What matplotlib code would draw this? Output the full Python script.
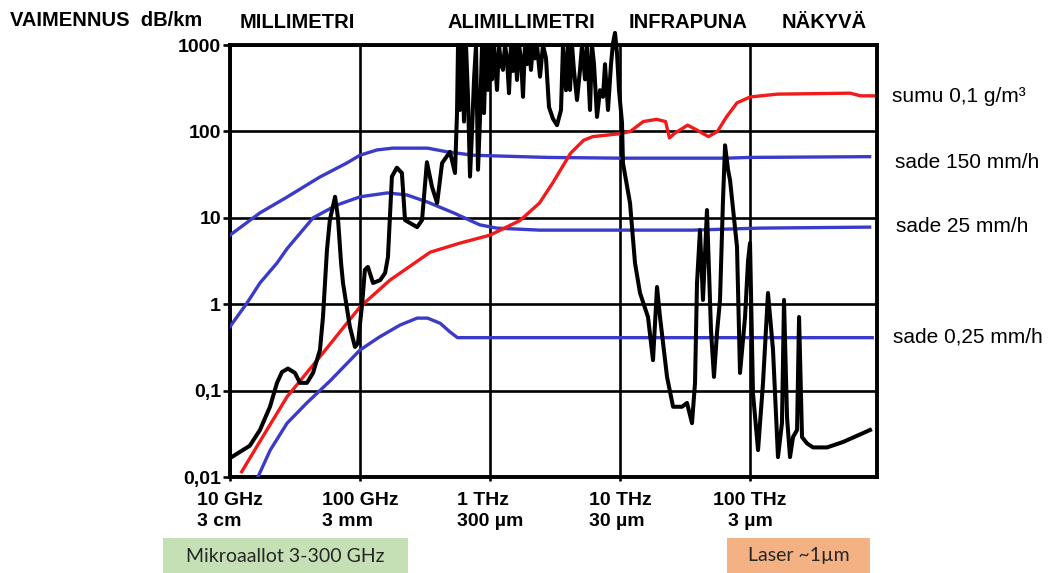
import matplotlib
matplotlib.use("Agg")
import matplotlib.pyplot as plt
from matplotlib.patches import Rectangle
from matplotlib.ticker import FixedLocator, FixedFormatter, NullLocator

# ---------------- data (frequency in GHz, attenuation in dB/km) ----------------
fog_ghz = [12.3, 17.8, 27.5, 49, 100, 170, 347, 589, 1000, 1700, 2400, 3020, 4170,
           5250, 6170, 10000, 12000, 15100, 19100, 22400, 24000, 26300, 33100, 38900,
           47900, 56200, 66100, 79400, 100000, 162000, 589000, 708000, 891000]
fog_db = [0.0115, 0.029, 0.085, 0.245, 0.93, 1.9, 4.0, 5.1, 6.3, 9.3, 14.8, 25, 56,
          79, 87, 94, 100, 130, 138, 130, 84, 95, 118, 104,
          87, 100, 148, 214, 250, 270, 277, 258, 258]

rain150_ghz = [10, 17, 27.5, 49, 79, 100, 135, 178, 331, 468, 741, 1120, 2750,
               10000, 66100, 100000, 832000]
rain150_db = [6.3, 11.4, 17.4, 29.6, 43, 53, 61, 64, 64, 58, 53, 52, 50,
              49, 49, 50, 51]

rain25_ghz = [10, 13.5, 17, 23, 27.5, 43.6, 66, 100, 162, 229, 331, 525, 832,
              1120, 2400, 6170, 36300, 120000, 832000]
rain25_db = [0.55, 1.03, 1.76, 3.0, 4.4, 10, 14, 17.5, 19.4, 18.4, 15.2, 11.4, 8.3,
             7.6, 7.2, 7.2, 7.2, 7.6, 7.8]

rain025_ghz = [16.4, 20.4, 27.5, 39, 59, 100, 141, 204, 275, 331, 415, 490, 562,
               1050, 871000]
rain025_db = [0.01, 0.0205, 0.042, 0.072, 0.13, 0.295, 0.417, 0.575, 0.69, 0.69,
              0.6, 0.48, 0.41, 0.41, 0.41]

clear_ghz = [10.3, 11.9, 14.2, 17.0, 20.3, 23.0, 25.1, 27.9, 31.6, 34.5, 39.1, 43.5,
             49.2, 51.9, 53.8, 55.7, 58.6, 64.3, 67.6, 71.5, 74.0, 83.5, 91.5, 96.5,
             104, 109, 115, 126, 143, 156, 164, 176, 192, 210, 222, 275, 300, 327,
             358, 392, 428, 492,
             538, 557.5, 567.4, 587.9, 609, 631, 653.8, 677.3, 701.8, 727.1, 753.3,
             780.4, 808.6, 837.7, 867.9, 899.2, 931.6, 965.2, 1000, 1036, 1073, 1132,
             1173, 1215, 1259, 1304, 1351, 1400, 1450, 1503, 1557, 1613, 1671, 1732,
             1794, 1859, 1926, 1995, 2067, 2142, 2219, 2299, 2424, 2557, 2696, 2843,
             3051, 3277, 3517, 3643, 3842, 3981, 4125, 4274, 4428, 4670, 4924, 5102,
             5380, 5575, 5878, 6090, 6310, 6654, 7017, 7399, 7666, 8085, 8526, 8834,
             9152, 9483, 9825, 10360, 10540,
             11940, 13040, 14250, 16420, 17940, 19260, 20310, 23000, 25590, 29990, 32740,
             35790, 37760, 39100, 41230, 43470, 46650, 50100, 52800, 55740, 58770,
             61970, 64270, 67760, 70190, 79430, 83750, 91590, 96590, 100000, 105400,
             115300, 125900, 137500, 150300, 164100, 176100, 182600, 192600, 203100,
             214200, 230000, 238400, 251200, 274400, 305300, 391100, 518800, 837500]
clear_db = [0.017, 0.0195, 0.023, 0.035, 0.065, 0.123, 0.164, 0.18, 0.16, 0.123, 0.123,
            0.16, 0.295, 0.71, 1.76, 4.25, 9.4, 17.5, 10.2, 3.0, 1.76, 0.55, 0.32,
            0.355, 1.03, 2.5, 2.7, 1.76, 1.9, 2.3, 3.5, 30, 38, 33, 9.4, 7.8, 9.4, 44,
            22.8, 14.8, 43, 58,
            33, 163, 1000, 177, 1000, 130, 1000, 250, 30, 100, 400,
            1000, 36, 140, 1000, 163, 1000, 302, 1000, 400, 1000, 302,
            1000, 600, 515, 1000, 700, 277, 1000, 500, 1000, 394, 1000, 700,
            251, 1000, 600, 1000, 515, 1000, 700, 1000, 430, 1000, 700, 191,
            140, 118, 177, 1000, 300, 1000, 302, 1000, 500, 231, 515, 1000,
            400, 1000, 177, 1000, 600, 147, 300, 251, 600, 177, 600, 1050,
            1380, 800, 300, 126, 43,
            14.8, 3.0, 1.35, 0.71, 0.225, 1.58, 0.71, 0.144, 0.065, 0.065, 0.072,
            0.042, 0.123, 1.76, 7.2, 1.12, 12.3, 0.5, 0.144, 0.47, 1.12,
            16, 69, 36, 27.4, 4.6, 0.16, 0.71, 3.2, 5.1, 0.093,
            0.0205, 0.123, 1.35, 0.295, 0.017, 0.042, 1.12, 0.049, 0.017,
            0.029, 0.035, 0.71, 0.029, 0.0245, 0.022, 0.022, 0.0254, 0.035]

xtick_ghz = [10, 100, 1000, 10000, 100000]
xtick_labels = ["10 GHz\n3 cm", "100 GHz\n3 mm", "1 THz\n300 µm", "10 THz\n30 µm",
                "100 THz\n3 µm"]
ytick_vals = [0.01, 0.1, 1, 10, 100, 1000]
ytick_labels = ["0,01", "0,1", "1", "10", "100", "1000"]

band_labels = ["MILLIMETRI", "ALIMILLIMETRI", "INFRAPUNA", "NÄKYVÄ"]
series_labels = ["sumu 0,1 g/m³", "sade 150 mm/h", "sade 25 mm/h", "sade 0,25 mm/h"]
y_title = "VAIMENNUS  dB/km"
box_labels = ["Mikroaallot 3-300 GHz", "Laser ~1µm"]

# ---------------- figure ----------------
W, H = 1055, 573
fig = plt.figure(figsize=(W / 100, H / 100), dpi=100)


def fx(px):
    return px / W


def fy(py):
    return 1 - py / H


BOLD = dict(family=["Liberation Sans", "DejaVu Sans"], weight="bold")
REG = dict(family=["Liberation Sans", "DejaVu Sans"])

ax = fig.add_axes([fx(230), fy(477), fx(877) - fx(230), fy(45) - fy(477)])
ax.set_xscale("log")
ax.set_yscale("log")
ax.set_xlim(10, 9.48e5)
ax.set_ylim(0.01, 1000)

BLUE = "#3b3bc9"
RED = "#f21a1a"
ax.plot(rain150_ghz, rain150_db, color=BLUE, lw=2.4, zorder=3)
ax.plot(rain25_ghz, rain25_db, color=BLUE, lw=2.4, zorder=3)
ax.plot(rain025_ghz, rain025_db, color=BLUE, lw=2.4, zorder=3)
ax.plot(fog_ghz, fog_db, color=RED, lw=2.4, zorder=4)
ax.plot(clear_ghz, clear_db, color="black", lw=2.9, zorder=5, clip_on=False,
        solid_joinstyle="round")

ax.xaxis.set_major_locator(FixedLocator(xtick_ghz))
ax.xaxis.set_major_formatter(FixedFormatter(xtick_labels))
ax.xaxis.set_minor_locator(NullLocator())
ax.yaxis.set_major_locator(FixedLocator(ytick_vals))
ax.yaxis.set_major_formatter(FixedFormatter(ytick_labels))
ax.yaxis.set_minor_locator(NullLocator())

ax.grid(True, which="major", color="black", lw=1.9)
ax.set_axisbelow(True)
for s in ax.spines.values():
    s.set_linewidth(2.8)
    s.set_color("black")

ax.tick_params(axis="y", length=5, width=1.9, pad=1.5, direction="out")
ax.tick_params(axis="x", length=3, width=1.9, pad=8, direction="out")
for t in ax.get_yticklabels():
    t.set_fontsize(14)
    t.set_fontweight("bold")
    t.set_family(BOLD["family"])
for i, t in enumerate(ax.get_xticklabels()):
    t.set_fontsize(14)
    t.set_fontweight("bold")
    t.set_family(BOLD["family"])
    t.set_linespacing(1.3)
    t.set_multialignment("center" if i == len(xtick_labels) - 1 else "left")

# header texts
fig.text(fx(10), fy(20), y_title, ha="left", va="center", fontsize=14.5, **BOLD)
for lab, px in zip(band_labels, [240, 448, 629, 782]):
    fig.text(fx(px), fy(22), lab, ha="left", va="center", fontsize=14.5, **BOLD)

# series labels on the right
for lab, px, py in zip(series_labels, [892, 895, 896, 893], [97, 163, 226, 337]):
    fig.text(fx(px), fy(py), lab, ha="left", va="center", fontsize=15, **REG)

# boxes at the bottom
for lab, (x0, x1), col in zip(box_labels, [(163, 408), (727, 870)], ["#c5e0b4", "#f4b183"]):
    fig.add_artist(Rectangle((fx(x0), 0), fx(x1) - fx(x0), fy(538), transform=fig.transFigure,
                             facecolor=col, edgecolor="none"))
    fig.text((fx(x0) + fx(x1)) / 2, fy(556), lab, ha="center", va="center",
             fontsize=14, family=["Lato", "DejaVu Sans"], color="#262626")

fig.savefig("out.png", dpi=100)
